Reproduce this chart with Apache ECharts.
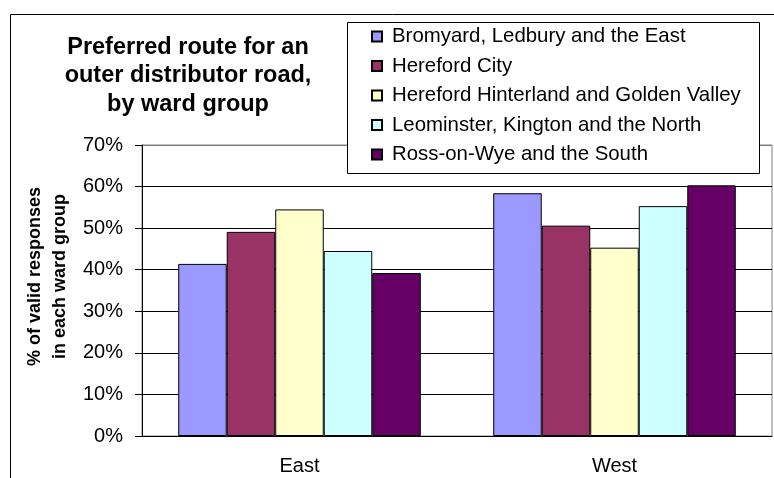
<html>
    <head>
        <meta charset="utf-8">
        <script src="https://cdn.jsdelivr.net/npm/echarts@6/dist/echarts.min.js"></script>
    </head>
    <body>
        <style>
            html, body, #main {
                width: 774px;
                height: 478px;
                margin: 0;
                background: #fff;
            }
        </style>
        <div id='main'></div>
        <script>
        var categories = ['East', 'West'];
        var groups = [
            'Bromyard, Ledbury and the East',
            'Hereford City',
            'Hereford Hinterland and Golden Valley',
            'Leominster, Kington and the North',
            'Ross-on-Wye and the South'
        ];
        var bromyard = [41.4, 58.4];
        var herefordCity = [49.1, 50.6];
        var hinterland = [54.5, 45.3];
        var leominster = [44.5, 55.3];
        var ross = [39.2, 60.3];
        var colors = ['#9999FF', '#993366', '#FFFFCC', '#CCFFFF', '#660066'];

        var values = [bromyard, herefordCity, hinterland, leominster, ross];
        var font = 'Liberation Sans, Arial, sans-serif';

        var series = [];
        for (var i = 0; i < groups.length; i++) {
            series.push({
                name: groups[i],
                type: 'bar',
                data: values[i],
                barGap: '0%',
                barCategoryGap: '23%',
                itemStyle: { color: colors[i], borderColor: '#000', borderWidth: 1 }
            });
        }

        var chart = echarts.init(document.getElementById('main'));
        var option = {
            animation: false,
            title: {
                text: 'Preferred route for an\nouter distributor road,\nby ward group',
                left: 183,
                top: 28,
                textAlign: 'center',
                textStyle: { fontFamily: font, fontSize: 23.5, fontWeight: 'bold', color: '#000', lineHeight: 28.5 }
            },
            graphic: [
                { type: 'rect', shape: { x: 10.5, y: 14.5, width: 900, height: 600 }, style: { fill: 'none', stroke: '#000', lineWidth: 1 }, z: 0 },
                { type: 'rect', shape: { x: 347.5, y: 22.5, width: 412, height: 151 }, style: { fill: '#fff', stroke: '#000', lineWidth: 1 }, z: 50 }
            ],
            legend: {
                orient: 'vertical',
                left: 371,
                top: 26,
                padding: 0,
                itemWidth: 10,
                itemHeight: 10,
                itemGap: 8.5,
                z: 60,
                icon: 'rect',
                textStyle: { fontFamily: font, fontSize: 20.4, color: '#000', lineHeight: 21, padding: [0, 0, 0, 5] },
                data: groups
            },
            grid: { left: 142, right: 2, top: 145, bottom: 42, show: true, borderColor: '#808080', borderWidth: 1 },
            xAxis: {
                type: 'category',
                data: categories,
                axisLine: { lineStyle: { color: '#000', width: 1 } },
                axisTick: { length: 7, lineStyle: { color: '#000' } },
                axisLabel: { fontFamily: font, fontSize: 20, color: '#000', margin: 20 }
            },
            yAxis: {
                type: 'value',
                min: 0,
                max: 70,
                interval: 10,
                name: '% of valid responses\nin each ward group',
                nameLocation: 'middle',
                nameGap: 66,
                nameTextStyle: { fontFamily: font, fontSize: 18, fontWeight: 'bold', color: '#000', lineHeight: 25, padding: [0, 0, 0, 28] },
                axisLine: { show: true, lineStyle: { color: '#000', width: 1 } },
                axisTick: { show: true, length: 7, lineStyle: { color: '#000' } },
                axisLabel: { fontFamily: font, fontSize: 20, color: '#000', margin: 19, formatter: '{value}%' },
                splitLine: { lineStyle: { color: ['#000', '#000', '#000', '#000', '#000', '#000', '#000', '#808080'], width: 1 } }
            },
            series: series
        };
        chart.setOption(option);
        </script>
    </body>
</html>
